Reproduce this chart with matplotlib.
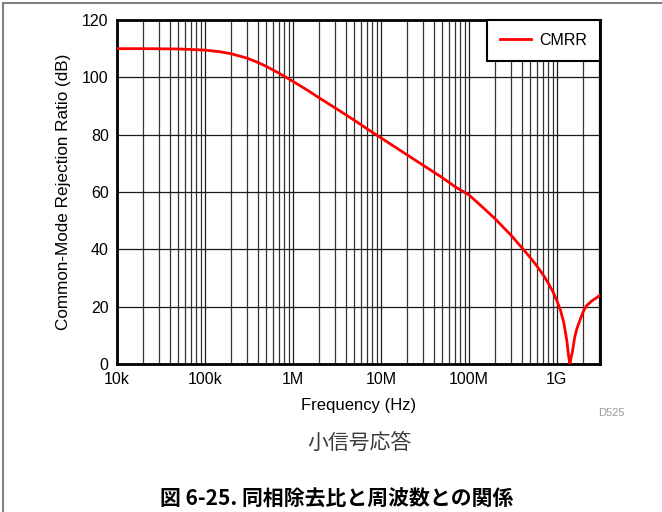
import matplotlib
matplotlib.use("Agg")
import matplotlib.pyplot as plt
from matplotlib.lines import Line2D
from matplotlib.ticker import FixedLocator, NullFormatter, LogLocator

plt.rcParams['font.family'] = ['Liberation Sans', 'DejaVu Sans']

# Data
freq_hz = [1e4, 2e4, 5e4, 1e5, 1.5e5, 2e5, 3e5, 4e5, 5e5, 7e5, 1e6, 1.5e6,
           2e6, 3e6, 5e6, 7e6, 1e7, 2e7, 3e7, 5e7, 7e7, 1e8, 1.3e8, 1.7e8,
           2e8, 2.5e8, 3e8, 4e8, 5e8, 6e8, 7e8, 8e8, 9e8, 1e9, 1.1e9, 1.2e9,
           1.3e9, 1.36e9, 1.41e9, 1.46e9, 1.5e9, 1.6e9, 1.7e9, 1.85e9, 2e9,
           2.17e9, 2.5e9, 2.8e9, 3.1e9]
cmrr_db = [110.0, 110.0, 109.9, 109.5, 108.9, 108.2, 106.7, 105.2, 103.8,
           101.4, 98.6, 95.3, 92.8, 89.4, 85.0, 82.0, 78.9, 72.9, 69.4, 65.0,
           61.8, 59.0, 55.9, 52.6, 50.6, 47.5, 45.0, 40.6, 37.1, 34.0, 31.1,
           28.2, 25.3, 22.2, 18.8, 14.5, 8.2, 3.0, 0.0, 2.5, 4.0, 9.4, 12.5,
           15.6, 18.3, 20.3, 22.0, 23.0, 24.0]

x_ticks = [1e4, 1e5, 1e6, 1e7, 1e8, 1e9]
x_tick_labels = ['10k', '100k', '1M', '10M', '100M', '1G']
y_ticks = [0, 20, 40, 60, 80, 100, 120]

fig = plt.figure(figsize=(6.62, 5.12), dpi=100)
ax = fig.add_axes([117/662, 1-364/512, (600-117)/662, (364-20)/512])

ax.plot(freq_hz, cmrr_db, color='#ff0000', lw=2.0, label='CMRR', zorder=3,
        solid_joinstyle='round')
ax.set_xscale('log')
ax.set_xlim(1e4, 3.1e9)
ax.set_ylim(0, 120)

ax.xaxis.set_major_locator(FixedLocator(x_ticks))
ax.set_xticklabels(x_tick_labels)
ax.xaxis.set_minor_locator(LogLocator(base=10, subs=range(2, 10)))
ax.xaxis.set_minor_formatter(NullFormatter())
ax.set_yticks(y_ticks)

ax.grid(True, which='major', axis='both', color='#1a1a1a', lw=0.9)
ax.grid(True, which='minor', axis='x', color='#333333', lw=0.9)
ax.tick_params(which='both', length=0, labelsize=11.5, colors='black', pad=6)
for s in ax.spines.values():
    s.set_linewidth(2.0)
    s.set_color('black')

ax.set_xlabel('Frequency (Hz)', fontsize=12, labelpad=8)
ax.set_ylabel('Common-Mode Rejection Ratio (dB)', fontsize=12.3, labelpad=8)

leg = ax.legend(loc='upper right', fontsize=11.5, frameon=True, fancybox=False,
                framealpha=1, edgecolor='black', borderpad=0.8,
                handlelength=1.9, handletextpad=0.55, borderaxespad=0)
leg.get_frame().set_linewidth(1.5)

fig.text(611/662, 1-413/512, 'D525', fontsize=8, color='#999999',
         ha='center', va='center')
fig.text(360/662, 1-443/512, '小信号応答', fontsize=15, color='#3a3a3a',
         ha='center', va='center', family=['Noto Sans CJK JP', 'DejaVu Sans'])
fig.text(337/662, 1-499/512, '図 6-25. 同相除去比と周波数との関係', fontsize=15,
         fontweight='bold', color='black', ha='center', va='center',
         family=['Noto Sans CJK JP', 'DejaVu Sans'])

fig.add_artist(Line2D([3/662, 3/662], [0, 1-3/512], color='#808080', lw=1.5,
                      transform=fig.transFigure))
fig.add_artist(Line2D([3/662, 1], [1-3/512, 1-3/512], color='#808080', lw=1.5,
                      transform=fig.transFigure))

fig.savefig('out.png', dpi=100, facecolor='white')
